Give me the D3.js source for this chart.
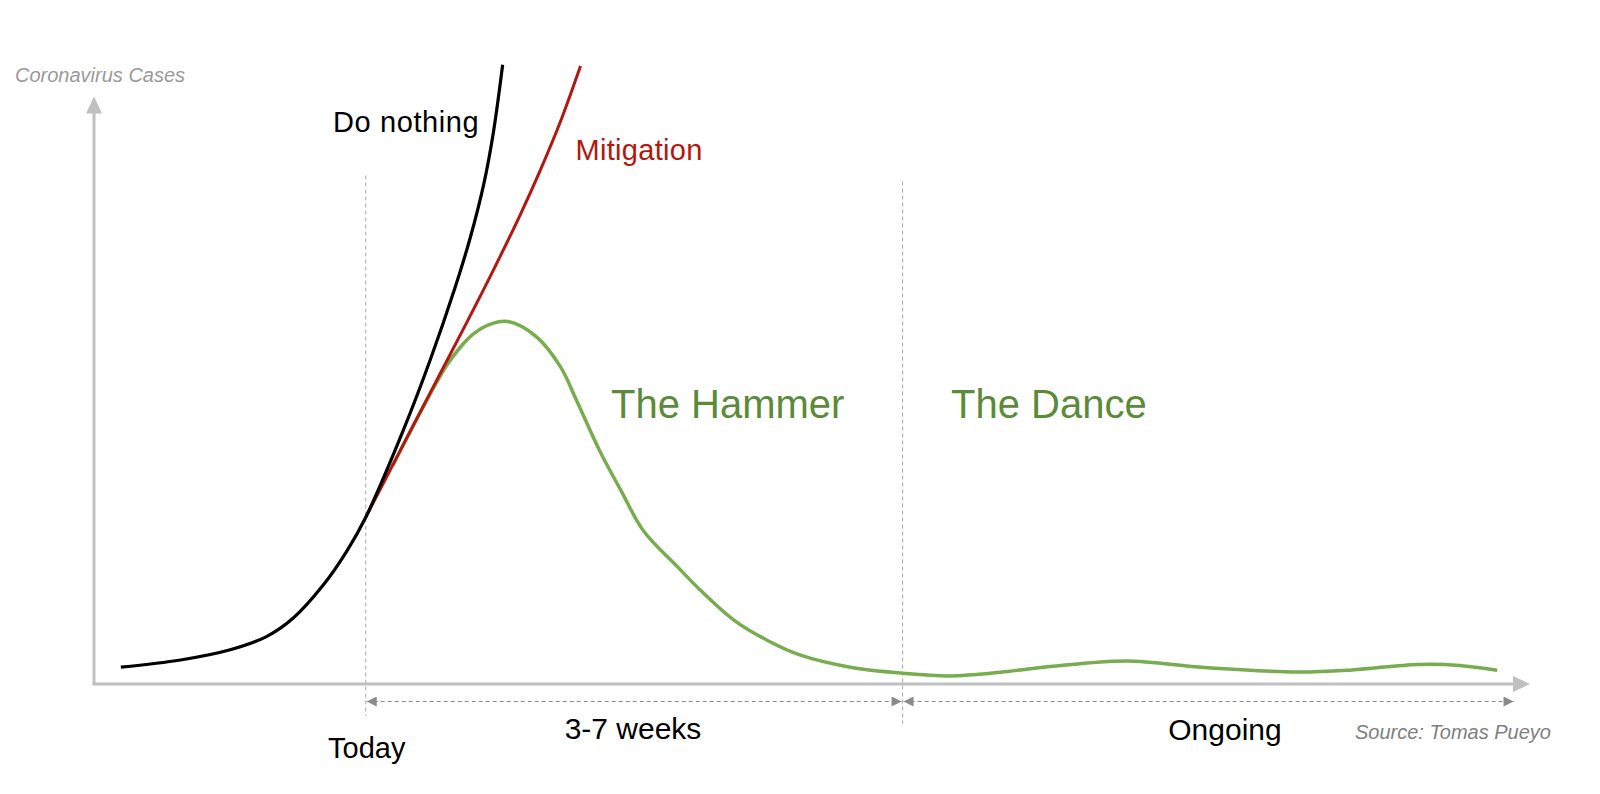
<!DOCTYPE html>
<html>
<head>
<meta charset="utf-8">
<script src="https://cdn.jsdelivr.net/npm/d3@7"></script>
<style>
  body { margin: 0; background: #fff; }
  svg { display: block; font-family: "Helvetica Neue", "Liberation Sans", Arial, sans-serif; }
</style>
</head>
<body>
<div id="graph"></div>
<script>
// time (arbitrary units) and cases (arbitrary units)
const doNothingX = [1.75, 6.2, 9.9, 12.6, 14.6, 16.8, 18.6, 20, 22.8, 24.8, 26.6, 27.8, 28.8, 29.5, 30.2];
const doNothingY = [2.8, 4.0, 5.7, 7.9, 11.0, 16.4, 22.2, 27.8, 42.3, 54.0, 65.7, 74.5, 83.4, 91.8, 103.2];

const mitigationX = [20, 22.5, 25, 27.5, 29.5, 31.5, 33, 34.5, 36];
const mitigationY = [27.8, 38.6, 49.4, 60.15, 68.95, 78.15, 85.6, 93.7, 103.0];

const hammerDanceX = [22.0, 24.0, 26.0, 27.0, 28.0, 29.2, 30.6, 32.7, 34.5, 35.7, 37.4, 39.0, 40.7, 43.2, 44.9, 47.4, 49.9, 52.4, 56.1, 60.0, 63.5, 67.3, 71.0, 76.7, 82.5, 89.4, 93.5, 98.4, 101.5, 104.3];
const hammerDanceY = [36.4, 45.0, 53.0, 56.0, 58.3, 59.9, 60.4, 57.9, 52.9, 47.3, 39.0, 32.3, 25.5, 19.6, 15.7, 10.7, 7.3, 4.8, 2.8, 1.8, 1.35, 1.95, 2.9, 3.85, 2.75, 2.0, 2.35, 3.25, 3.1, 2.3];

const phaseBounds = [20, 60, 105.6];
const phaseLabels = ["3-7 weeks", "Ongoing"];
const todayLabel = "Today";

const width = 1600;
const height = 794;

const green = "#77ad4e";
const greenText = "#5b8b38";
const red = "#b3170f";
const axisGrey = "#c0c0c0";

const svg = d3.select("#graph")
              .append("svg")
              .attr("width", width)
              .attr("height", height);

const x = d3.scaleLinear()
            .domain([-0.25, 106.75])
            .range([94, 1530]);

const y = d3.scaleLinear()
            .domain([0, 100])
            .range([684, 84]);

const zip = (xs, ys) => xs.map((d, i) => [d, ys[i]]);

const line = d3.line()
               .x(d => x(d[0]))
               .y(d => y(d[1]))
               .curve(d3.curveCatmullRom.alpha(0.5));

const defs = svg.append("defs");

defs.append("marker")
    .attr("id", "dash-arrow")
    .attr("viewBox", "0 0 10 10")
    .attr("refX", 10)
    .attr("refY", 5)
    .attr("markerWidth", 11)
    .attr("markerHeight", 10)
    .attr("markerUnits", "userSpaceOnUse")
    .attr("orient", "auto-start-reverse")
    .append("path")
    .attr("d", "M0,0 L10,5 L0,10 Z")
    .attr("fill", "#8a8a8a");

// axes
const x0 = x.range()[0];
const y0 = y.range()[0];
const yTop = y(97.9);
const xEnd = x.range()[1];

svg.append("line")
   .attr("x1", x0).attr("y1", y0)
   .attr("x2", x0).attr("y2", yTop + 14)
   .attr("stroke", axisGrey)
   .attr("stroke-width", 3);

svg.append("path")
   .attr("d", `M${x0},${yTop} L${x0 + 8},${yTop + 17} L${x0 - 8},${yTop + 17} Z`)
   .attr("fill", axisGrey);

svg.append("line")
   .attr("x1", x0 - 1.5).attr("y1", y0)
   .attr("x2", xEnd - 14).attr("y2", y0)
   .attr("stroke", axisGrey)
   .attr("stroke-width", 3);

svg.append("path")
   .attr("d", `M${xEnd},${y0} L${xEnd - 17},${y0 - 8} L${xEnd - 17},${y0 + 8} Z`)
   .attr("fill", axisGrey);

svg.append("text")
   .attr("x", 15)
   .attr("y", 81.5)
   .attr("font-size", 20)
   .attr("font-style", "italic")
   .attr("fill", "#9a9a9a")
   .text("Coronavirus Cases");

// phase separators
const separatorTop = [175.5, 181.5];
const separatorBottom = [716, 724];

svg.selectAll(".separator")
   .data(phaseBounds.slice(0, 2))
   .enter()
   .append("line")
   .attr("class", "separator")
   .attr("x1", d => x(d))
   .attr("x2", d => x(d))
   .attr("y1", (d, i) => separatorTop[i])
   .attr("y2", (d, i) => separatorBottom[i])
   .attr("stroke", "#a8a8a8")
   .attr("stroke-width", 1)
   .attr("stroke-dasharray", "4,3");

svg.selectAll(".span")
   .data(phaseLabels)
   .enter()
   .append("line")
   .attr("class", "span")
   .attr("x1", (d, i) => x(phaseBounds[i]) + 1)
   .attr("x2", (d, i) => x(phaseBounds[i + 1]) - 1)
   .attr("y1", y0 + 17.5)
   .attr("y2", y0 + 17.5)
   .attr("stroke", "#8a8a8a")
   .attr("stroke-width", 1)
   .attr("stroke-dasharray", "4,3")
   .attr("marker-start", "url(#dash-arrow)")
   .attr("marker-end", "url(#dash-arrow)");

const labelCenters = [633, 1225];
const labelBaselines = [739, 740];

svg.selectAll(".phase-label")
   .data(phaseLabels)
   .enter()
   .append("text")
   .attr("class", "phase-label")
   .attr("x", (d, i) => labelCenters[i])
   .attr("y", (d, i) => labelBaselines[i])
   .attr("text-anchor", "middle")
   .attr("font-size", 30)
   .attr("fill", "#000")
   .text(d => d);

svg.append("text")
   .attr("x", x(phaseBounds[0]) + 1)
   .attr("y", 757.5)
   .attr("text-anchor", "middle")
   .attr("font-size", 29)
   .attr("fill", "#000")
   .text(todayLabel);

svg.append("text")
   .attr("x", 1551)
   .attr("y", 738.5)
   .attr("text-anchor", "end")
   .attr("font-size", 20)
   .attr("font-style", "italic")
   .attr("fill", "#808080")
   .text("Source: Tomas Pueyo");

// curves
svg.append("path")
   .datum(zip(hammerDanceX, hammerDanceY))
   .attr("d", line)
   .attr("fill", "none")
   .attr("stroke", green)
   .attr("stroke-width", 3.5);

svg.append("path")
   .datum(zip(mitigationX, mitigationY))
   .attr("d", line)
   .attr("fill", "none")
   .attr("stroke", red)
   .attr("stroke-width", 3);

svg.append("path")
   .datum(zip(doNothingX, doNothingY))
   .attr("d", line)
   .attr("fill", "none")
   .attr("stroke", "#000")
   .attr("stroke-width", 3.2);

// curve labels
svg.append("text")
   .attr("x", 333)
   .attr("y", 131.5)
   .attr("font-size", 29)
   .attr("letter-spacing", 0.6)
   .attr("fill", "#000")
   .text("Do nothing");

svg.append("text")
   .attr("x", 575.5)
   .attr("y", 160)
   .attr("font-size", 29)
   .attr("letter-spacing", 0.3)
   .attr("fill", red)
   .text("Mitigation");

svg.append("text")
   .attr("x", 611)
   .attr("y", 418)
   .attr("font-size", 40)
   .attr("fill", greenText)
   .text("The Hammer");

svg.append("text")
   .attr("x", 951)
   .attr("y", 418)
   .attr("font-size", 40)
   .attr("fill", greenText)
   .text("The Dance");
</script>
</body>
</html>
